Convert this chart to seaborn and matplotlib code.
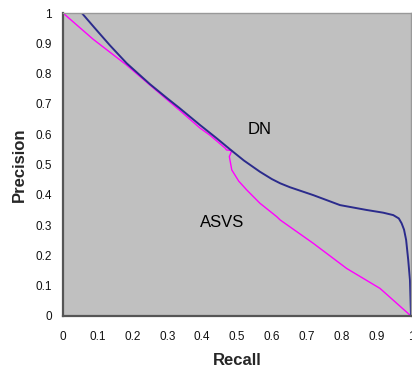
import matplotlib
matplotlib.use("Agg")
import matplotlib.pyplot as plt
import seaborn as sns
import pandas as pd

# Data
dn_recall = [0.054, 0.09, 0.135, 0.183, 0.25, 0.30, 0.334, 0.394, 0.440,
             0.480, 0.520, 0.566, 0.600, 0.624, 0.652, 0.719, 0.796, 0.872, 0.920, 0.949, 0.965,
             0.973, 0.980, 0.986, 0.992, 0.997, 1.0]
dn_precision = [1.0, 0.952, 0.893, 0.834, 0.765, 0.718, 0.687, 0.630, 0.588,
                0.550, 0.513, 0.476, 0.452, 0.438, 0.425, 0.399, 0.366, 0.350, 0.341, 0.333, 0.322,
                0.306, 0.285, 0.251, 0.185, 0.119, 0.0]

asvs_recall = [0.0, 0.087, 0.183, 0.250, 0.334, 0.394, 0.422, 0.466, 0.470, 0.485, 0.478,
               0.485, 0.505, 0.528, 0.566, 0.614, 0.624, 0.719, 0.815, 0.911, 1.0]
asvs_precision = [1.0, 0.913, 0.828, 0.762, 0.680, 0.620, 0.597, 0.554, 0.548, 0.546, 0.526,
                  0.482, 0.445, 0.416, 0.372, 0.328, 0.317, 0.240, 0.157, 0.091, 0.0]

tick_values = [0, 0.1, 0.2, 0.3, 0.4, 0.5, 0.6, 0.7, 0.8, 0.9, 1]
tick_labels = ["0", "0.1", "0.2", "0.3", "0.4", "0.5", "0.6", "0.7", "0.8", "0.9", "1"]

sns.set_style("white")
plt.rcParams['font.family'] = ['Liberation Sans', 'DejaVu Sans']

fig = plt.figure(figsize=(4.12, 3.68), dpi=100)
ax = fig.add_axes([63 / 412, 52 / 368, 348 / 412, 303 / 368])
ax.set_facecolor("#C0C0C0")

dn_df = pd.DataFrame({"Recall": dn_recall, "Precision": dn_precision})
asvs_df = pd.DataFrame({"Recall": asvs_recall, "Precision": asvs_precision})

sns.lineplot(data=asvs_df, x="Recall", y="Precision", sort=False, estimator=None,
             color="#FF00FF", linewidth=1.0, ax=ax)
sns.lineplot(data=dn_df, x="Recall", y="Precision", sort=False, estimator=None,
             color="#2B2B8C", linewidth=1.4, ax=ax)

ax.set_xlim(0, 1)
ax.set_ylim(0, 1)
ax.set_xticks(tick_values)
ax.set_xticklabels(tick_labels)
ax.set_yticks(tick_values)
ax.set_yticklabels(tick_labels)
ax.tick_params(axis="both", direction="out", length=4, width=1, color="#333333",
               labelsize=8.5, labelcolor="#111111", pad=4)
ax.tick_params(axis="x", pad=7)

for side in ["left", "bottom"]:
    ax.spines[side].set_color("#555555")
    ax.spines[side].set_linewidth(1.6)
for side in ["top", "right"]:
    ax.spines[side].set_color("#999999")
    ax.spines[side].set_linewidth(1.0)

ax.set_xlabel("Recall", fontsize=12, fontweight="bold", labelpad=7)
ax.set_ylabel("Precision", fontsize=12, fontweight="bold", labelpad=6)

ax.text(0.566, 0.614, "DN", fontsize=12, ha="center", va="center", color="black")
ax.text(0.457, 0.307, "ASVS", fontsize=12, ha="center", va="center", color="black")

fig.savefig("out.png", dpi=100)
